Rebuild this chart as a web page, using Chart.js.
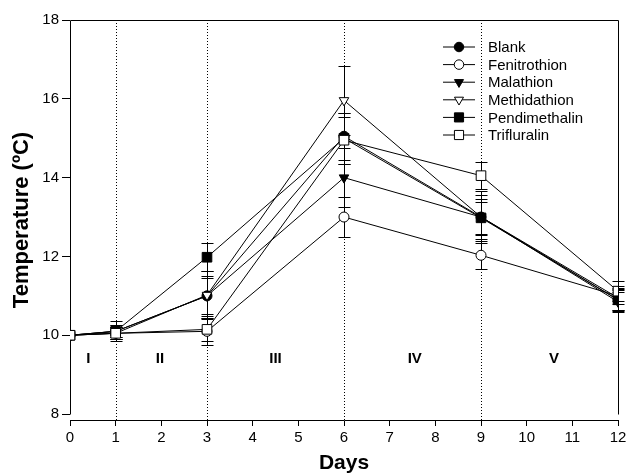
<!DOCTYPE html>
<html>
<head>
<meta charset="utf-8">
<script src="https://cdn.jsdelivr.net/npm/chart.js@4.4.1/dist/chart.umd.min.js"></script>
<style>
  html, body { margin: 0; padding: 0; background: #fff; }
  #wrap { width: 631px; height: 476px; }
</style>
</head>
<body>
<div id="wrap"><canvas id="tempChart" width="631" height="476"></canvas></div>
<script>
const days = [0, 1, 3, 6, 9, 12];
const seriesNames = ["Blank", "Fenitrothion", "Malathion", "Methidathion", "Pendimethalin", "Trifluralin"];

const blank = [10, 10.1, 11.0, 15.05, 13.0, 10.9];
const fenitrothion = [10, 10.05, 10.1, 13.0, 12.03, 11.0];
const malathion = [10, 10.1, 11.0, 14.0, 13.0, 10.85];
const methidathion = [10, 10.05, 11.02, 15.96, 13.0, 10.95];
const pendimethalin = [10, 10.1, 11.98, 15.0, 12.98, 10.9];
const trifluralin = [10, 10.05, 10.15, 14.95, 14.05, 11.12];

const blankErr = [0, 0.15, 0.5, 0.6, 0.45, 0.25];
const fenitrothionErr = [0, 0.15, 0.35, 0.5, 0.35, 0.2];
const malathionErr = [0, 0.15, 0.45, 0.75, 0.55, 0.25];
const methidathionErr = [0, 0.15, 0.6, 0.87, 0.65, 0.3];
const pendimethalinErr = [0, 0.25, 0.35, 0.65, 0.4, 0.28];
const trifluralinErr = [0, 0.15, 0.3, 0.6, 0.35, 0.25];

const yTicks = [8, 10, 12, 14, 16, 18];
const phaseBounds = [1, 3, 6, 9];
const phaseLabels = ["I", "II", "III", "IV", "V"];
const phaseX = [0.4, 1.97, 4.5, 7.55, 10.6];
const phaseY = 9.4;

const FONT = "'Liberation Sans', Arial, sans-serif";

const allValues = [blank, fenitrothion, malathion, methidathion, pendimethalin, trifluralin];
const allErrors = [blankErr, fenitrothionErr, malathionErr, methidathionErr, pendimethalinErr, trifluralinErr];
const markerStyle = [
  { pointStyle: "circle", rotation: 0, radius: 5, fill: "#000" },
  { pointStyle: "circle", rotation: 0, radius: 5, fill: "#fff" },
  { pointStyle: "triangle", rotation: 180, radius: 5.5, fill: "#000" },
  { pointStyle: "triangle", rotation: 180, radius: 5.5, fill: "#fff" },
  { pointStyle: "rect", rotation: 0, radius: 6.8, fill: "#000" },
  { pointStyle: "rect", rotation: 0, radius: 6.8, fill: "#fff" },
];

// frame, dotted phase lines, error bars, legend and phase labels
const overlayPlugin = {
  id: "overlay",
  beforeDatasetsDraw(chart) {
    const { ctx, scales: { x, y } } = chart;
    ctx.save();
    ctx.strokeStyle = "#000";
    ctx.lineWidth = 1;

    // dotted phase separators
    ctx.setLineDash([1, 2]);
    phaseBounds.forEach((d) => {
      const px = Math.round(x.getPixelForValue(d)) + 0.5;
      ctx.beginPath();
      ctx.moveTo(px, chart.chartArea.bottom);
      ctx.lineTo(px, y.getPixelForValue(18));
      ctx.stroke();
    });
    ctx.setLineDash([]);

    // left axis, top and right frame
    const l = Math.round(x.getPixelForValue(0)) + 0.5;
    const r = Math.round(x.getPixelForValue(12)) + 0.5;
    const t = Math.round(y.getPixelForValue(18)) + 0.5;
    const b = Math.round(y.getPixelForValue(8)) + 0.5;
    ctx.beginPath();
    ctx.moveTo(l, b);
    ctx.lineTo(l, t);
    ctx.lineTo(r, t);
    ctx.lineTo(r, b);
    ctx.stroke();

    // error bars
    allValues.forEach((vals, i) => {
      vals.forEach((v, j) => {
        const e = allErrors[i][j];
        if (!e) return;
        const px = Math.round(x.getPixelForValue(days[j])) + 0.5;
        const hi = y.getPixelForValue(v + e);
        const lo = y.getPixelForValue(v - e);
        ctx.beginPath();
        ctx.moveTo(px, hi);
        ctx.lineTo(px, lo);
        ctx.moveTo(px - 6, Math.round(hi) + 0.5);
        ctx.lineTo(px + 6, Math.round(hi) + 0.5);
        ctx.moveTo(px - 6, Math.round(lo) + 0.5);
        ctx.lineTo(px + 6, Math.round(lo) + 0.5);
        ctx.stroke();
      });
    });
    ctx.restore();
  },
  afterDraw(chart) {
    const { ctx, scales: { x, y } } = chart;
    ctx.save();

    // phase labels
    ctx.fillStyle = "#000";
    ctx.font = "bold 15px " + FONT;
    ctx.textAlign = "center";
    ctx.textBaseline = "middle";
    phaseLabels.forEach((lab, i) => {
      ctx.fillText(lab, x.getPixelForValue(phaseX[i]), y.getPixelForValue(phaseY));
    });

    // legend
    ctx.font = "15px " + FONT;
    ctx.textAlign = "left";
    seriesNames.forEach((name, i) => {
      const ly = 47 + i * 17.6;
      ctx.strokeStyle = "#000";
      ctx.lineWidth = 1;
      ctx.beginPath();
      ctx.moveTo(443, ly);
      ctx.lineTo(475, ly);
      ctx.stroke();
      ctx.fillStyle = markerStyle[i].fill;
      Chart.helpers.drawPoint(ctx, {
        pointStyle: markerStyle[i].pointStyle,
        rotation: markerStyle[i].rotation,
        radius: markerStyle[i].radius * 0.95,
        borderWidth: 1,
      }, 459, ly);
      ctx.fillStyle = "#000";
      ctx.fillText(name, 488, ly + 1);
    });
    ctx.restore();
  },
};

function buildDatasets() {
  return seriesNames.map((name, i) => ({
    label: name,
    data: days.map((d, j) => ({ x: d, y: allValues[i][j] })),
    borderColor: "#000",
    borderWidth: 1,
    backgroundColor: markerStyle[i].fill,
    pointBackgroundColor: markerStyle[i].fill,
    pointBorderColor: "#000",
    pointBorderWidth: 1,
    pointStyle: markerStyle[i].pointStyle,
    pointRotation: markerStyle[i].rotation,
    pointRadius: markerStyle[i].radius,
    tension: 0,
    order: 5 - i,
  }));
}

function renderChart() {
  Chart.defaults.color = "#000";
  Chart.defaults.font.family = FONT;

  new Chart(document.getElementById("tempChart"), {
    type: "line",
    data: { datasets: buildDatasets() },
    plugins: [overlayPlugin],
    options: {
      responsive: false,
      animation: false,
      layout: { padding: { top: 20, right: 13, left: 0, bottom: 0 } },
      plugins: {
        legend: { display: false },
        tooltip: { enabled: false },
      },
      scales: {
        x: {
          type: "linear",
          min: 0,
          max: 12,
          afterFit: (scale) => { scale.height = 56; },
          ticks: { stepSize: 1, font: { size: 15 }, padding: 3 },
          grid: { drawOnChartArea: false, tickLength: 6, color: "#000" },
          border: { display: true, color: "#000" },
          title: {
            display: true,
            text: "Days",
            font: { size: 21, weight: "bold" },
            padding: { top: 0, bottom: 0 },
          },
        },
        y: {
          type: "linear",
          min: 7.85,
          max: 18,
          afterFit: (scale) => { scale.width = 70; },
          afterBuildTicks: (axis) => {
            axis.ticks = yTicks.map((v) => ({ value: v }));
          },
          ticks: { font: { size: 15 }, padding: 3 },
          grid: { drawOnChartArea: false, tickLength: 8, color: "#000" },
          border: { display: false },
          title: {
            display: true,
            text: "Temperature (ºC)",
            font: { size: 22, weight: "bold" },
            padding: { top: 9, bottom: 0 },
          },
        },
      },
    },
  });
}

document.addEventListener("DOMContentLoaded", renderChart);
</script>
</body>
</html>
